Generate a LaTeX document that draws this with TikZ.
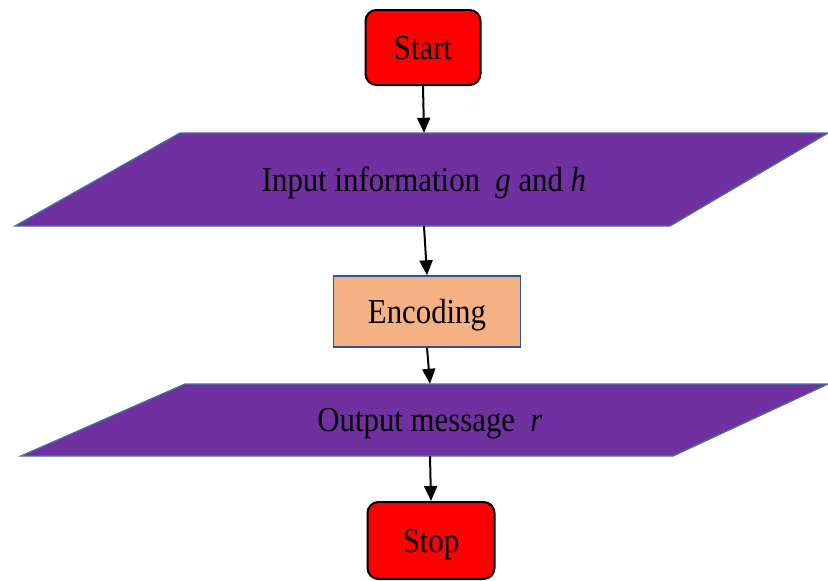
\documentclass[tikz,border=0pt]{standalone}
\usepackage{fontspec}
\setmainfont{Liberation Serif}
\usetikzlibrary{arrows.meta}
\definecolor{termred}{HTML}{FF0000}
\definecolor{iopurple}{HTML}{7030A0}
\definecolor{ioedge}{HTML}{41719C}
\definecolor{procfill}{HTML}{F4B183}
\definecolor{procedge}{HTML}{2F5597}
% narrow lettering used for all labels
\newcommand\narrowtext[1]{\scalebox{0.88}[1]{#1}}
\tikzset{
  terminal/.style={draw=black, line width=2pt, fill=termred, rounded corners=11pt,
    inner sep=0pt, minimum width=115pt, minimum height=75pt},
  process/.style={draw=procedge, line width=1.4pt, fill=procfill,
    inner sep=0pt, minimum width=187pt, minimum height=71pt},
  iotext/.style={inner sep=0pt, draw=none},
  iobox/.style={fill=iopurple, draw=ioedge, line width=1.3pt},
  flow/.style={draw=black, line width=2pt, -{Triangle[length=15pt,width=13pt]}},
  lbl/.style={font=\fontsize{35}{40}\selectfont, text depth=0pt}
}
\begin{document}
\begin{tikzpicture}[x=1pt,y=-1pt]
\useasboundingbox (0,0) rectangle (828,581);
% input parallelogram
\path[iobox] (180,133) -- (828,133) -- (670,226) -- (15,226) -- cycle;
% output parallelogram
\path[iobox] (185,384) -- (828,384) -- (673,456) -- (21,456) -- cycle;

\node[terminal, lbl] (start) at (423,47.5) {\narrowtext{Start}};
\node[iotext, lbl, minimum height=93pt] (in) at (424,179.5) {\narrowtext{Input information\ \ \textit{g} and \textit{h}}};
\node[process, lbl] (enc) at (427,311.5) {\narrowtext{Encoding}};
\node[iotext, lbl, minimum height=72pt] (out) at (430,420) {\narrowtext{Output message\ \ \textit{r}}};
\node[terminal, lbl, minimum width=127pt, minimum height=77pt] (stop) at (431,540.5) {\narrowtext{Stop}};

\draw[flow] (start.south) -- (in.north);
\draw[flow] (in.south) -- (enc.north);
\draw[flow] (enc.south) -- (out.north);
\draw[flow] (out.south) -- (stop.north);
\end{tikzpicture}
\end{document}
